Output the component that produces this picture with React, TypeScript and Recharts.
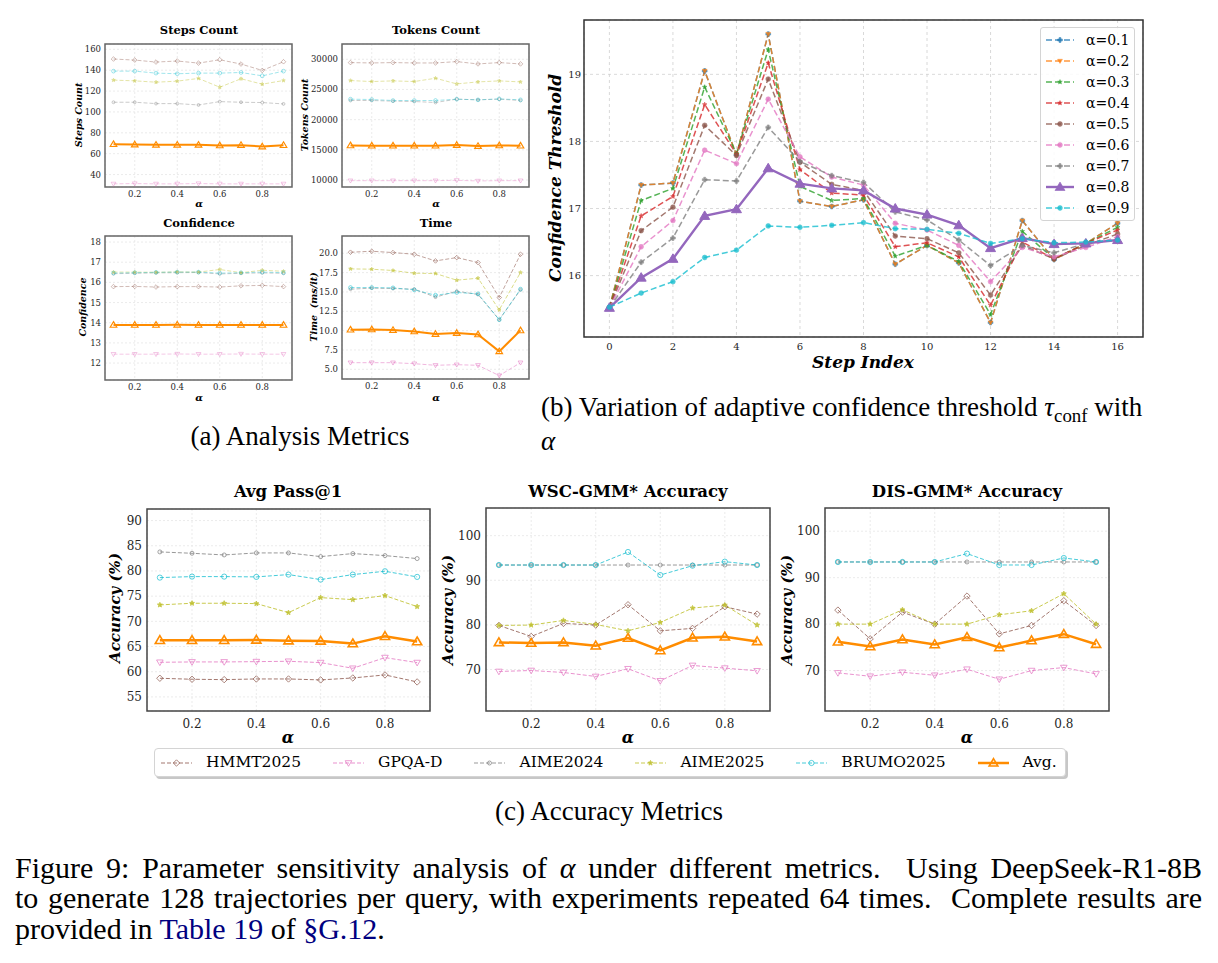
import React from 'react';
import { LineChart, Line, XAxis, YAxis, CartesianGrid, ReferenceArea } from 'recharts';

const SERIF = '"DejaVu Serif", serif';
const TIMES = '"Liberation Serif", "Times New Roman", serif';
const INK = '#262626';

// ---------- shared α axis ----------
const ALPHAS = [0.1, 0.2, 0.3, 0.4, 0.5, 0.6, 0.7, 0.8, 0.9];
const ALPHA_TICKS = [0.2, 0.4, 0.6, 0.8];

// ---------- (a) steps count ----------
const STEPS_HMMT = [150.7, 149.7, 147.8, 148.8, 146.8, 150.0, 145.9, 139.8, 148.1];
const STEPS_GPQA = [31.1, 31.4, 31.1, 31.1, 31.4, 31.1, 31.1, 31.1, 31.1];
const STEPS_AIME24 = [109.3, 109.3, 108.0, 108.0, 106.7, 109.9, 109.3, 109.0, 107.7];
const STEPS_AIME25 = [130.5, 129.8, 128.5, 129.5, 132.1, 123.7, 131.8, 126.6, 130.1];
const STEPS_BRUMO = [139.1, 139.1, 137.2, 136.6, 137.2, 137.2, 137.8, 134.6, 139.1];
const STEPS_AVG = [69.1, 68.8, 68.5, 68.5, 68.5, 67.9, 68.2, 66.9, 68.2];
const STEPS_Y_TICKS = [40, 60, 80, 100, 120, 140, 160];

// ---------- (a) tokens count ----------
const TOK_HMMT = [29450, 29390, 29450, 29390, 29390, 29610, 29230, 29450, 29230];
const TOK_GPQA = [9890, 9890, 9890, 9890, 9890, 9950, 9840, 9890, 9890];
const TOK_AIME24 = [23170, 23170, 23060, 23000, 22840, 23390, 23280, 23390, 23170];
const TOK_AIME25 = [26470, 26310, 26420, 26310, 26860, 25920, 26250, 26420, 26250];
const TOK_BRUMO = [23390, 23330, 23170, 23170, 23170, 23390, 23280, 23440, 23280];
const TOK_AVG = [15730, 15680, 15680, 15680, 15680, 15790, 15620, 15730, 15680];
const TOK_Y_TICKS = [10000, 15000, 20000, 25000, 30000];

// ---------- (a) confidence ----------
const CONF_HMMT = [15.79, 15.8, 15.77, 15.79, 15.79, 15.77, 15.83, 15.85, 15.79];
const CONF_GPQA = [12.44, 12.44, 12.44, 12.45, 12.44, 12.44, 12.45, 12.44, 12.44];
const CONF_AIME24 = [16.43, 16.45, 16.47, 16.48, 16.49, 16.42, 16.45, 16.47, 16.45];
const CONF_AIME25 = [16.51, 16.51, 16.5, 16.52, 16.51, 16.64, 16.48, 16.6, 16.55];
const CONF_BRUMO = [16.46, 16.48, 16.5, 16.51, 16.51, 16.46, 16.48, 16.51, 16.48];
const CONF_AVG = [13.89, 13.89, 13.89, 13.9, 13.89, 13.89, 13.89, 13.89, 13.89];
const CONF_Y_TICKS = [12, 13, 14, 15, 16, 17, 18];

// ---------- (a) time ----------
const TIME_HMMT = [20.13, 20.26, 20.09, 19.87, 19.01, 19.44, 18.8, 14.28, 19.87];
const TIME_GPQA = [5.86, 5.86, 5.86, 5.73, 5.52, 5.6, 5.52, 4.19, 5.86];
const TIME_AIME24 = [15.36, 15.49, 15.44, 15.36, 14.33, 15.1, 14.67, 11.41, 15.27];
const TIME_AIME25 = [17.98, 17.94, 17.77, 17.42, 17.38, 16.52, 16.78, 12.69, 17.51];
const TIME_BRUMO = [15.57, 15.57, 15.53, 15.27, 14.58, 14.93, 14.76, 11.41, 15.36];
const TIME_AVG = [10.12, 10.16, 10.07, 9.9, 9.56, 9.69, 9.51, 7.32, 10.03];
const TIME_Y_TICKS = [5, 7.5, 10, 12.5, 15, 17.5, 20];

// ---------- (b) adaptive confidence threshold per step ----------
const STEP_IDX = [0, 1, 2, 3, 4, 5, 6, 7, 8, 9, 10, 11, 12, 13, 14, 15, 16];
const STEP_TICKS = [0, 2, 4, 6, 8, 10, 12, 14, 16];
const THR_TICKS = [16, 17, 18, 19];
const THR_A01 = [15.52, 17.35, 17.38, 19.05, 17.8, 19.6, 17.11, 17.03, 17.13, 16.17, 16.45, 16.19, 15.3, 16.82, 16.24, 16.48, 16.78];
const THR_A02 = [15.52, 17.35, 17.38, 19.05, 17.8, 19.6, 17.11, 17.03, 17.13, 16.17, 16.45, 16.19, 15.3, 16.82, 16.24, 16.48, 16.78];
const THR_A03 = [15.52, 17.12, 17.3, 18.81, 17.82, 19.37, 17.33, 17.12, 17.15, 16.29, 16.45, 16.21, 15.42, 16.66, 16.25, 16.48, 16.72];
const THR_A04 = [15.52, 16.89, 17.18, 18.55, 17.81, 19.17, 17.58, 17.23, 17.2, 16.43, 16.49, 16.28, 15.56, 16.5, 16.25, 16.48, 16.68];
const THR_A05 = [15.52, 16.67, 17.02, 18.24, 17.79, 18.93, 17.69, 17.36, 17.27, 16.59, 16.55, 16.34, 15.71, 16.45, 16.25, 16.45, 16.62];
const THR_A06 = [15.52, 16.43, 16.82, 17.87, 17.67, 18.63, 17.77, 17.47, 17.35, 16.78, 16.68, 16.45, 15.91, 16.42, 16.28, 16.42, 16.58];
const THR_A07 = [15.52, 16.2, 16.56, 17.43, 17.41, 18.21, 17.7, 17.49, 17.39, 16.95, 16.83, 16.53, 16.15, 16.45, 16.34, 16.48, 16.53];
const THR_A08 = [15.52, 15.97, 16.25, 16.89, 16.99, 17.6, 17.37, 17.3, 17.27, 17.0, 16.91, 16.75, 16.41, 16.56, 16.47, 16.48, 16.53];
const THR_A09 = [15.53, 15.74, 15.91, 16.27, 16.38, 16.74, 16.72, 16.75, 16.79, 16.7, 16.69, 16.63, 16.48, 16.55, 16.49, 16.5, 16.53];

// ---------- (c) accuracy ----------
const PASS_HMMT = [58.7, 58.5, 58.43, 58.56, 58.56, 58.37, 58.76, 59.36, 57.97];
const PASS_GPQA = [61.87, 61.94, 61.94, 62.0, 62.07, 61.81, 60.68, 62.8, 61.81];
const PASS_AIME24 = [83.78, 83.51, 83.18, 83.58, 83.58, 82.85, 83.45, 83.05, 82.46];
const PASS_AIME25 = [73.26, 73.59, 73.59, 73.52, 71.73, 74.71, 74.31, 75.11, 72.93];
const PASS_BRUMO = [78.68, 78.88, 78.88, 78.82, 79.28, 78.29, 79.28, 79.94, 78.82];
const PASS_AVG = [66.24, 66.24, 66.24, 66.31, 66.17, 66.11, 65.58, 67.04, 65.98];
const PASS_Y_TICKS = [55, 60, 65, 70, 75, 80, 85, 90];

const WSC_HMMT = [79.88, 77.41, 80.33, 79.96, 84.52, 78.68, 79.21, 84.07, 82.42];
const WSC_GPQA = [69.56, 69.78, 69.33, 68.44, 70.16, 67.46, 70.91, 70.31, 69.71];
const WSC_AIME24 = [93.42, 93.42, 93.42, 93.42, 93.42, 93.42, 93.42, 93.42, 93.42];
const WSC_AIME25 = [79.88, 79.96, 81.0, 80.1, 78.68, 80.55, 83.77, 84.44, 79.96];
const WSC_BRUMO = [93.42, 93.42, 93.42, 93.42, 96.34, 91.17, 93.27, 94.17, 93.42];
const WSC_AVG = [76.07, 75.92, 76.07, 75.32, 77.04, 74.27, 77.11, 77.34, 76.29];

const DIS_HMMT = [83.02, 76.83, 82.59, 80.0, 86.04, 77.91, 79.71, 85.04, 79.71];
const DIS_GPQA = [69.5, 68.78, 69.64, 68.99, 70.29, 68.13, 70.0, 70.65, 69.28];
const DIS_AIME24 = [93.38, 93.38, 93.38, 93.38, 93.38, 93.38, 93.38, 93.38, 93.38];
const DIS_AIME25 = [80.0, 80.0, 83.09, 80.0, 80.0, 82.01, 82.88, 86.55, 80.0];
const DIS_BRUMO = [93.38, 93.38, 93.38, 93.38, 95.18, 92.73, 92.73, 94.24, 93.38];
const DIS_AVG = [76.19, 75.18, 76.69, 75.61, 77.19, 74.96, 76.47, 77.84, 75.68];
const ACC_Y_TICKS = [70, 80, 90, 100];

// ---------- series styling ----------
type Shape = 'circle' | 'diamond' | 'triDown' | 'triUp' | 'star' | 'plus';

const BENCH: { key: string; name: string; color: string; shape: Shape }[] = [
  { key: 'hmmt', name: 'HMMT2025', color: '#8c564b', shape: 'diamond' },
  { key: 'gpqa', name: 'GPQA-D', color: '#e377c2', shape: 'triDown' },
  { key: 'aime24', name: 'AIME2024', color: '#7f7f7f', shape: 'circle' },
  { key: 'aime25', name: 'AIME2025', color: '#bcbd22', shape: 'star' },
  { key: 'brumo', name: 'BRUMO2025', color: '#17becf', shape: 'circle' },
  { key: 'avg', name: 'Avg.', color: '#ff8c00', shape: 'triUp' },
];

const MARK_R: Record<string, number> = { hmmt: 3.2, gpqa: 3.3, aime24: 2, aime25: 2.6, brumo: 2.6, avg: 4.6 };
const MARK_FILLED: Record<string, boolean> = { hmmt: false, gpqa: false, aime24: false, aime25: true, brumo: false, avg: false };

const ALPHA_SERIES: { key: string; name: string; color: string; shape: Shape }[] = [
  { key: 'a01', name: 'α=0.1', color: '#1f77b4', shape: 'plus' },
  { key: 'a02', name: 'α=0.2', color: '#ff7f0e', shape: 'triDown' },
  { key: 'a03', name: 'α=0.3', color: '#2ca02c', shape: 'star' },
  { key: 'a04', name: 'α=0.4', color: '#d62728', shape: 'star' },
  { key: 'a05', name: 'α=0.5', color: '#8c564b', shape: 'circle' },
  { key: 'a06', name: 'α=0.6', color: '#e377c2', shape: 'circle' },
  { key: 'a07', name: 'α=0.7', color: '#7f7f7f', shape: 'plus' },
  { key: 'a08', name: 'α=0.8', color: '#9467bd', shape: 'triUp' },
  { key: 'a09', name: 'α=0.9', color: '#17becf', shape: 'circle' },
];

function rows(x: number[], xKey: string, cols: Record<string, number[]>) {
  return x.map((v, i) => {
    const r: Record<string, number> = { [xKey]: v };
    Object.keys(cols).forEach((k) => (r[k] = cols[k][i]));
    return r;
  });
}

const stepsRows = rows(ALPHAS, 'alpha', { hmmt: STEPS_HMMT, gpqa: STEPS_GPQA, aime24: STEPS_AIME24, aime25: STEPS_AIME25, brumo: STEPS_BRUMO, avg: STEPS_AVG });
const tokRows = rows(ALPHAS, 'alpha', { hmmt: TOK_HMMT, gpqa: TOK_GPQA, aime24: TOK_AIME24, aime25: TOK_AIME25, brumo: TOK_BRUMO, avg: TOK_AVG });
const confRows = rows(ALPHAS, 'alpha', { hmmt: CONF_HMMT, gpqa: CONF_GPQA, aime24: CONF_AIME24, aime25: CONF_AIME25, brumo: CONF_BRUMO, avg: CONF_AVG });
const timeRows = rows(ALPHAS, 'alpha', { hmmt: TIME_HMMT, gpqa: TIME_GPQA, aime24: TIME_AIME24, aime25: TIME_AIME25, brumo: TIME_BRUMO, avg: TIME_AVG });
const passRows = rows(ALPHAS, 'alpha', { hmmt: PASS_HMMT, gpqa: PASS_GPQA, aime24: PASS_AIME24, aime25: PASS_AIME25, brumo: PASS_BRUMO, avg: PASS_AVG });
const wscRows = rows(ALPHAS, 'alpha', { hmmt: WSC_HMMT, gpqa: WSC_GPQA, aime24: WSC_AIME24, aime25: WSC_AIME25, brumo: WSC_BRUMO, avg: WSC_AVG });
const disRows = rows(ALPHAS, 'alpha', { hmmt: DIS_HMMT, gpqa: DIS_GPQA, aime24: DIS_AIME24, aime25: DIS_AIME25, brumo: DIS_BRUMO, avg: DIS_AVG });
const thrRows = rows(STEP_IDX, 'step', {
  a01: THR_A01, a02: THR_A02, a03: THR_A03, a04: THR_A04, a05: THR_A05,
  a06: THR_A06, a07: THR_A07, a08: THR_A08, a09: THR_A09,
});

// ---------- marker glyphs ----------
function markerEl(shape: Shape, cx: number, cy: number, r: number, color: string, filled: boolean, sw: number, opacity: number, key?: string) {
  const common: any = { stroke: color, strokeWidth: sw, fill: filled ? color : 'none', opacity, key };
  switch (shape) {
    case 'circle':
      return <circle cx={cx} cy={cy} r={r} {...common} />;
    case 'diamond':
      return <polygon points={`${cx},${cy - r} ${cx + r},${cy} ${cx},${cy + r} ${cx - r},${cy}`} {...common} />;
    case 'triDown':
      return <polygon points={`${cx - r},${cy - r * 0.7} ${cx + r},${cy - r * 0.7} ${cx},${cy + r}`} {...common} />;
    case 'triUp':
      return <polygon points={`${cx},${cy - r} ${cx + r},${cy + r * 0.7} ${cx - r},${cy + r * 0.7}`} {...common} />;
    case 'plus': {
      const t = r * 0.4;
      return (
        <polygon
          points={`${cx - t},${cy - r} ${cx + t},${cy - r} ${cx + t},${cy - t} ${cx + r},${cy - t} ${cx + r},${cy + t} ${cx + t},${cy + t} ${cx + t},${cy + r} ${cx - t},${cy + r} ${cx - t},${cy + t} ${cx - r},${cy + t} ${cx - r},${cy - t} ${cx - t},${cy - t}`}
          {...common}
        />
      );
    }
    case 'star':
    default: {
      const pts: string[] = [];
      for (let i = 0; i < 10; i++) {
        const rr = i % 2 === 0 ? r : r * 0.45;
        const a = -Math.PI / 2 + (i * Math.PI) / 5;
        pts.push(`${cx + rr * Math.cos(a)},${cy + rr * Math.sin(a)}`);
      }
      return <polygon points={pts.join(' ')} {...common} />;
    }
  }
}

function dotFn(shape: Shape, r: number, color: string, filled: boolean, sw: number, opacity: number, id: string) {
  return (p: any) => {
    const k = `${id}-${p.index}`;
    if (p.cx == null || p.cy == null) return <g key={k} />;
    return markerEl(shape, p.cx, p.cy, r, color, filled, sw, opacity, k);
  };
}

// Benchmark lines used by the α-sweep panels (a) and (c)
function benchLines(id: string, scale: number, opacity: number, lineW: number, avgW: number) {
  return BENCH.map((b) => {
    const isAvg = b.key === 'avg';
    return (
      <Line
        key={`${id}-${b.key}`}
        type="linear"
        dataKey={b.key}
        stroke={b.color}
        strokeWidth={isAvg ? avgW : lineW}
        strokeDasharray={isAvg ? undefined : '4 2'}
        strokeOpacity={isAvg ? 1 : opacity}
        dot={dotFn(b.shape, MARK_R[b.key] * scale, b.color, MARK_FILLED[b.key], isAvg ? 1.6 * scale : 0.9, isAvg ? 1 : opacity, `${id}-${b.key}`)}
        activeDot={false}
        isAnimationActive={false}
      />
    );
  });
}

function thresholdLines() {
  return ALPHA_SERIES.map((s) => {
    const main = s.key === 'a08';
    return (
      <Line
        key={s.key}
        type="linear"
        dataKey={s.key}
        stroke={s.color}
        strokeWidth={main ? 2.4 : 1.5}
        strokeDasharray={main ? undefined : '6 3'}
        strokeOpacity={main ? 1 : 0.8}
        dot={dotFn(s.shape, main ? 5 : 2.4, s.color, true, main ? 1 : 0.6, main ? 1 : 0.8, s.key)}
        activeDot={false}
        isAnimationActive={false}
      />
    );
  });
}

// ---------- generic panel ----------
type Box = { x: number; y: number; w: number; h: number };
const PAD = { l: 60, t: 8, r: 8, b: 30 };

function Panel(props: {
  box: Box; data: any[]; xKey: string; xDomain: [number, number]; xTicks: number[];
  yDomain: [number, number]; yTicks: number[]; xFmt?: (v: number) => string; yFmt?: (v: number) => string;
  font: number; xGap: number; yGap: number; gridStroke: string; gridDash: string;
  frameStroke: string; frameWidth: number; children: React.ReactNode;
}) {
  const { box } = props;
  const W = box.w + PAD.l + PAD.r;
  const H = box.h + PAD.t + PAD.b;
  const tickStyle = { fontSize: props.font, fill: INK, fontFamily: SERIF };
  return (
    <div style={{ position: 'absolute', left: box.x - PAD.l, top: box.y - PAD.t, width: W, height: H }}>
      <LineChart width={W} height={H} data={props.data} margin={{ top: PAD.t, right: PAD.r, bottom: 0, left: 0 }}>
        <CartesianGrid stroke={props.gridStroke} strokeDasharray={props.gridDash} strokeWidth={0.8} />
        <XAxis
          dataKey={props.xKey} type="number" domain={props.xDomain} ticks={props.xTicks} interval={0}
          allowDataOverflow height={PAD.b} tickLine={false} axisLine={false} tickSize={0}
          tickMargin={props.xGap} tickFormatter={props.xFmt} tick={tickStyle}
        />
        <YAxis
          type="number" domain={props.yDomain} ticks={props.yTicks} interval={0}
          allowDataOverflow width={PAD.l} tickLine={false} axisLine={false} tickSize={0}
          tickMargin={props.yGap} tickFormatter={props.yFmt} tick={tickStyle}
        />
        {props.children}
        <ReferenceArea
          x1={props.xDomain[0]} x2={props.xDomain[1]} y1={props.yDomain[0]} y2={props.yDomain[1]}
          fill="none" fillOpacity={0} stroke={props.frameStroke} strokeWidth={props.frameWidth} ifOverflow="visible"
        />
      </LineChart>
    </div>
  );
}

// ---------- text helpers ----------
function Txt(props: { x: number; y: number; size: number; bold?: boolean; italic?: boolean; rotate?: boolean; family?: string; children: React.ReactNode }) {
  return (
    <div
      style={{
        position: 'absolute', left: props.x, top: props.y,
        transform: `translate(-50%, -50%)${props.rotate ? ' rotate(-90deg)' : ''}`,
        fontFamily: props.family || SERIF, fontSize: props.size, fontWeight: props.bold ? 700 : 400,
        fontStyle: props.italic ? 'italic' : 'normal', whiteSpace: 'pre', lineHeight: 1, color: '#000',
      }}
    >
      {props.children}
    </div>
  );
}

function Sample(props: { color: string; shape: Shape; dashed: boolean; width: number; lw: number; r: number; filled: boolean; opacity: number; sw: number }) {
  const h = 14;
  return (
    <svg width={props.width} height={h} style={{ display: 'block', flex: 'none' }}>
      <line x1={0} y1={h / 2} x2={props.width} y2={h / 2} stroke={props.color} strokeWidth={props.lw}
        strokeDasharray={props.dashed ? '4 2' : undefined} strokeOpacity={props.opacity} />
      {markerEl(props.shape, props.width / 2, h / 2, props.r, props.color, props.filled, props.sw, props.opacity)}
    </svg>
  );
}

function BenchLegend() {
  return (
    <div
      style={{
        position: 'absolute', left: 154, top: 748, height: 29, boxSizing: 'border-box',
        border: '1px solid #d4d4d4', borderRadius: 4, background: '#fff',
        boxShadow: '2px 2px 0 rgba(0,0,0,0.22)', display: 'flex', alignItems: 'center',
        padding: '0 8px 0 6px', fontFamily: SERIF, fontSize: 15.5, whiteSpace: 'nowrap',
      }}
    >
      {BENCH.map((b, i) => {
        const isAvg = b.key === 'avg';
        return (
          <div key={b.key} style={{ display: 'flex', alignItems: 'center', marginLeft: i === 0 ? 0 : 32 }}>
            <Sample color={b.color} shape={b.shape} dashed={!isAvg} width={31} lw={isAvg ? 2.5 : 1}
              r={MARK_R[b.key] * (isAvg ? 0.95 : 1)} filled={MARK_FILLED[b.key]} opacity={isAvg ? 1 : 0.8} sw={isAvg ? 1.6 : 0.9} />
            <span style={{ marginLeft: 14, lineHeight: 1 }}>{b.name}</span>
          </div>
        );
      })}
    </div>
  );
}

function ThresholdLegend() {
  return (
    <div
      style={{
        position: 'absolute', left: 1040, top: 27, width: 95, boxSizing: 'border-box',
        border: '1px solid #d4d4d4', borderRadius: 3, background: 'rgba(255,255,255,0.85)',
        padding: '1.5px 0 1.5px 5px', fontFamily: SERIF, fontSize: 14,
      }}
    >
      {ALPHA_SERIES.map((s) => {
        const main = s.key === 'a08';
        return (
          <div key={s.key} style={{ display: 'flex', alignItems: 'center', height: 21 }}>
            <svg width={28} height={14} style={{ display: 'block', flex: 'none' }}>
              <line x1={0} y1={7} x2={28} y2={7} stroke={s.color} strokeWidth={main ? 2.4 : 1.5}
                strokeDasharray={main ? undefined : '6 3'} strokeOpacity={main ? 1 : 0.8} />
              {markerEl(s.shape, 14, 7, main ? 5 : 2.4, s.color, true, 0.6, main ? 1 : 0.8)}
            </svg>
            <span style={{ marginLeft: 12, lineHeight: 1 }}>{s.name}</span>
          </div>
        );
      })}
    </div>
  );
}

const fmt1 = (v: number) => v.toFixed(1);
const fmt0 = (v: number) => String(v);

const A_STYLE = { font: 8.5, xGap: 4, yGap: 4, gridStroke: '#e6e6e6', gridDash: '2 2', frameStroke: '#666', frameWidth: 1.5 };
const C_STYLE = { font: 12, xGap: 8, yGap: 5, gridStroke: '#e6e6e6', gridDash: '2 2', frameStroke: '#444', frameWidth: 1.5 };

const SUBCAP = { fontFamily: TIMES, fontSize: 27, lineHeight: '30.5px', color: '#000' } as const;
const MAINCAP = { fontFamily: TIMES, fontSize: 30, lineHeight: '30.5px', color: '#000' } as const;
const LINK = '#000080';

export default function App() {
  const alphaDomain: [number, number] = [0.06, 0.94];
  return (
    <div style={{ position: 'absolute', left: 0, top: 0, width: 1218, height: 963, background: '#fff', overflow: 'hidden' }}>
      {/* ---- (a) analysis metrics ---- */}
      <Panel box={{ x: 105, y: 44, w: 187, h: 143 }} data={stepsRows} xKey="alpha" xDomain={alphaDomain} xTicks={ALPHA_TICKS}
        yDomain={[28.1, 165.1]} yTicks={STEPS_Y_TICKS} xFmt={fmt1} yFmt={fmt0} {...A_STYLE}>
        {benchLines('steps', 0.72, 0.45, 0.9, 2)}
      </Panel>
      <Panel box={{ x: 342, y: 44, w: 187, h: 143 }} data={tokRows} xKey="alpha" xDomain={alphaDomain} xTicks={ALPHA_TICKS}
        yDomain={[8840, 32530]} yTicks={TOK_Y_TICKS} xFmt={fmt1} yFmt={fmt0} {...A_STYLE}>
        {benchLines('tok', 0.72, 0.45, 0.9, 2)}
      </Panel>
      <Panel box={{ x: 105, y: 236, w: 187, h: 144 }} data={confRows} xKey="alpha" xDomain={alphaDomain} xTicks={ALPHA_TICKS}
        yDomain={[11.16, 18.3]} yTicks={CONF_Y_TICKS} xFmt={fmt1} yFmt={fmt0} {...A_STYLE}>
        {benchLines('conf', 0.72, 0.45, 0.9, 2)}
      </Panel>
      <Panel box={{ x: 342, y: 236, w: 187, h: 143 }} data={timeRows} xKey="alpha" xDomain={alphaDomain} xTicks={ALPHA_TICKS}
        yDomain={[3.75, 22.23]} yTicks={TIME_Y_TICKS} xFmt={fmt1} yFmt={fmt1} {...A_STYLE}>
        {benchLines('time', 0.72, 0.6, 0.9, 2)}
      </Panel>

      <Txt x={199} y={31} size={11.5} bold>Steps Count</Txt>
      <Txt x={436} y={31} size={11.5} bold>Tokens Count</Txt>
      <Txt x={199} y={223.5} size={11.5} bold>Confidence</Txt>
      <Txt x={436} y={224} size={11.5} bold>Time</Txt>
      <Txt x={79} y={115} size={9.5} bold italic rotate>Steps Count</Txt>
      <Txt x={305} y={115} size={9.5} bold italic rotate>Tokens Count</Txt>
      <Txt x={83} y={307} size={9.5} bold italic rotate>Confidence</Txt>
      <Txt x={314} y={307} size={9.5} bold italic rotate>{'Time  (ms/it)'}</Txt>
      <Txt x={199} y={204} size={10} bold italic>α</Txt>
      <Txt x={436} y={204} size={10} bold italic>α</Txt>
      <Txt x={199} y={398} size={10} bold italic>α</Txt>
      <Txt x={436} y={398} size={10} bold italic>α</Txt>

      {/* ---- (b) threshold per step ---- */}
      <Panel box={{ x: 584, y: 20, w: 559, h: 317 }} data={thrRows} xKey="step" xDomain={[-0.8, 16.8]} xTicks={STEP_TICKS}
        yDomain={[15.085, 19.81]} yTicks={THR_TICKS} xFmt={fmt0} yFmt={fmt0}
        font={10} xGap={6} yGap={3} gridStroke="#cfcfcf" gridDash="3 3" frameStroke="#333" frameWidth={1.5}>
        {thresholdLines()}
      </Panel>
      <ThresholdLegend />
      <Txt x={555} y={178} size={17} bold italic rotate>Confidence Threshold</Txt>
      <Txt x={863} y={362} size={17} bold italic>Step Index</Txt>

      {/* ---- (c) accuracy metrics ---- */}
      <Panel box={{ x: 147, y: 509, w: 283, h: 202 }} data={passRows} xKey="alpha" xDomain={alphaDomain} xTicks={ALPHA_TICKS}
        yDomain={[52.2, 92.3]} yTicks={PASS_Y_TICKS} xFmt={fmt1} yFmt={fmt0} {...C_STYLE}>
        {benchLines('pass', 1, 0.8, 1, 2.5)}
      </Panel>
      <Panel box={{ x: 486, y: 508, w: 284, h: 203 }} data={wscRows} xKey="alpha" xDomain={alphaDomain} xTicks={ALPHA_TICKS}
        yDomain={[60.7, 106.2]} yTicks={ACC_Y_TICKS} xFmt={fmt1} yFmt={fmt0} {...C_STYLE}>
        {benchLines('wsc', 1, 0.8, 1, 2.5)}
      </Panel>
      <Panel box={{ x: 825, y: 508, w: 284, h: 203 }} data={disRows} xKey="alpha" xDomain={alphaDomain} xTicks={ALPHA_TICKS}
        yDomain={[61.3, 105.0]} yTicks={ACC_Y_TICKS} xFmt={fmt1} yFmt={fmt0} {...C_STYLE}>
        {benchLines('dis', 1, 0.8, 1, 2.5)}
      </Panel>
      <Txt x={288} y={492} size={16.5} bold>Avg Pass@1</Txt>
      <Txt x={628} y={492} size={16.5} bold>WSC-GMM* Accuracy</Txt>
      <Txt x={967} y={492} size={16.5} bold>DIS-GMM* Accuracy</Txt>
      <Txt x={115} y={608} size={15} bold italic rotate>Accuracy (%)</Txt>
      <Txt x={448} y={610} size={15} bold italic rotate>Accuracy (%)</Txt>
      <Txt x={787} y={610} size={15} bold italic rotate>Accuracy (%)</Txt>
      <Txt x={288} y={738} size={16} bold italic>α</Txt>
      <Txt x={628} y={738} size={16} bold italic>α</Txt>
      <Txt x={967} y={738} size={16} bold italic>α</Txt>
      <BenchLegend />

      {/* ---- captions ---- */}
      <div style={{ position: 'absolute', left: 0, width: 600, top: 421, textAlign: 'center', ...SUBCAP }}>
        (a) Analysis Metrics
      </div>
      <div style={{ position: 'absolute', left: 541, top: 392, whiteSpace: 'nowrap', ...SUBCAP }}>
        <div>
          (b) Variation of adaptive confidence threshold <i>τ</i>
          <span style={{ fontSize: '0.7em', position: 'relative', top: '0.3em' }}>conf</span> with
        </div>
        <div><i>α</i></div>
      </div>
      <div style={{ position: 'absolute', left: 0, width: 1218, top: 796, textAlign: 'center', ...SUBCAP }}>
        (c) Accuracy Metrics
      </div>
      <div style={{ position: 'absolute', left: 15, width: 1187, top: 852.5, ...MAINCAP }}>
        <div style={{ textAlign: 'justify', textAlignLast: 'justify', whiteSpace: 'nowrap' }}>
          Figure 9: Parameter sensitivity analysis of <i>α</i> under different metrics.&nbsp; Using DeepSeek-R1-8B
        </div>
        <div style={{ textAlign: 'justify', textAlignLast: 'justify', whiteSpace: 'nowrap' }}>
          to generate 128 trajectories per query, with experiments repeated 64 times.&nbsp; Complete results are
        </div>
        <div>
          provided in <span style={{ color: LINK }}>Table 19</span> of <span style={{ color: LINK }}>§G.12</span>.
        </div>
      </div>
    </div>
  );
}
